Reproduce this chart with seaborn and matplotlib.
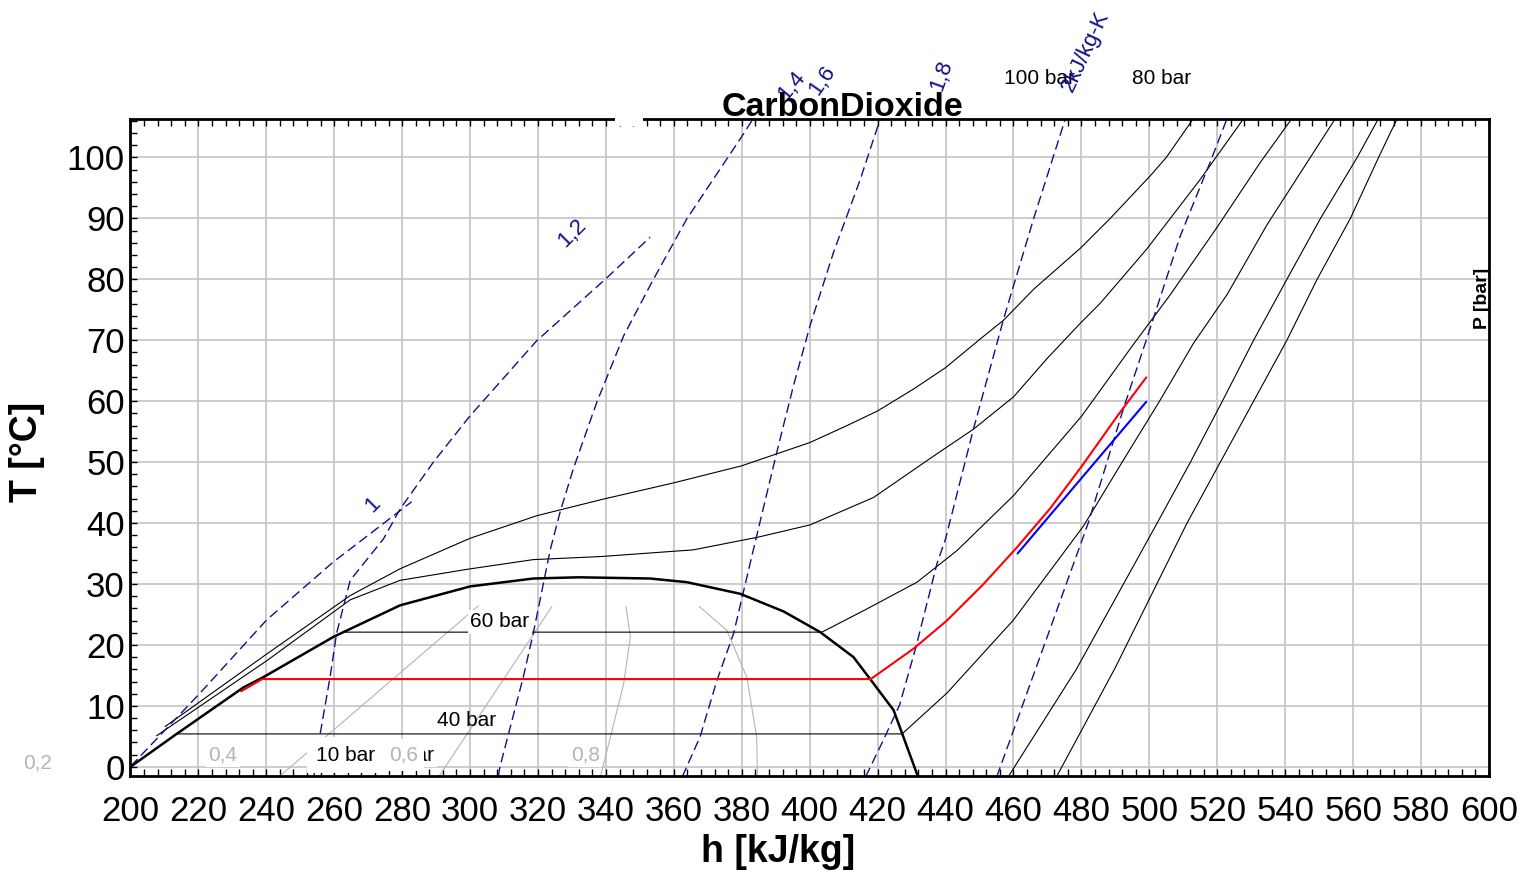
import matplotlib
matplotlib.use("Agg")
import matplotlib.pyplot as plt
from matplotlib.patches import Rectangle
from matplotlib.ticker import MultipleLocator
import seaborn as sns

# --- saturation dome (h in kJ/kg, T in degC) ---
dome_h = [200, 213.6, 233.2, 239.1, 259.7, 262.7, 279.4, 300, 318.6, 332, 353,
          363.8, 379.5, 392.3, 403.1, 412.9, 417.8, 424.7, 431.6, 432.0]
dome_T = [0, 5.4, 13.0, 14.7, 21.3, 22.1, 26.5, 29.6, 30.9, 31.1, 30.9,
          30.3, 28.4, 25.5, 22.1, 18.0, 14.4, 9.3, -1.2, -1.6]

# --- isobars ---
p100_h = [210.2, 240.1, 264.7, 279.4, 300, 319.6, 339, 360, 380, 400, 411, 420,
          430.6, 440, 450.2, 457.1, 466, 479.7, 488.5, 500.3, 505, 513]
p100_T = [6.6, 18.5, 28.1, 32.5, 37.5, 41.2, 43.9, 46.6, 49.4, 53.2, 56.0, 58.4,
          62.0, 65.5, 70.2, 73.3, 78.4, 85.1, 90, 97, 100, 106.4]

p80_h = [207.7, 240.1, 264.7, 279.4, 299, 318.6, 338.3, 365.7, 384.9, 400.1,
         418.8, 436.5, 448.2, 460, 469.9, 479.7, 485.6, 499.3, 515, 527.8]
p80_T = [5.1, 17.4, 27.4, 30.6, 32.4, 34.0, 34.5, 35.6, 37.7, 39.7,
         44.2, 51.0, 55.4, 60.7, 67.0, 72.8, 76.1, 85.0, 96.4, 106.4]

p60_h = [262.7, 403.6, 416.8, 431.6, 443.4, 460, 480, 494.9, 506.2, 519.9, 532.7, 542]
p60_T = [22.1, 22.1, 25.9, 30.3, 35.5, 44.5, 57.5, 69.0, 77.5, 88.5, 99.2, 106.4]

p40_h = [213.6, 427.2, 440.4, 460, 480.6, 492, 503, 513, 522.9, 534.7, 547.4, 554.8]
p40_T = [5.4, 5.4, 12.1, 24.1, 39.5, 50, 60, 69.5, 77.5, 89, 100, 106.4]

p20_h = [458.6, 478.5, 502.3, 512.1, 521.5, 530.7, 540.5, 550.4, 561.2, 567.5]
p20_T = [-1.5, 16.0, 40, 50, 60, 70, 80, 90, 100, 106.4]

p10_h = [472.8, 490.0, 511.1, 520.9, 530.7, 540.5, 549.4, 559.2, 567.5, 573]
p10_T = [-1.5, 16.3, 40, 50, 60, 70, 80, 90, 100, 106.4]

# --- cycle lines ---
red_h = [232.6, 238.8, 418.0, 430.6, 440.4, 451.2, 461.0, 470.8, 480.2, 490.5, 499.1]
red_T = [12.4, 14.4, 14.4, 19.4, 24.0, 30.0, 36.0, 42.4, 49.4, 57.5, 63.9]
blue_h = [461.2, 499.1]
blue_T = [35.0, 59.9]

# --- isentropes (kJ/kg-K) ---
s10_h = [200.1, 220.5, 240.1, 259.7, 268.6, 282.8]
s10_T = [0.1, 12.1, 24.1, 33.6, 37.4, 43.5]
s12_h = [254.0, 255.8, 258.8, 260.7, 264.7, 274.5, 279.4, 289.2, 300.0, 319.6, 339.8, 353.0]
s12_T = [-1.6, 5.2, 14.8, 21.9, 30.6, 37.4, 42.3, 50.0, 57.6, 69.9, 80.0, 86.9]
s14_h = [308.3, 308.8, 315.7, 318.6, 323.6, 326.5, 330.4, 337.3, 345.2, 353.5, 363.8, 379.5, 383.4]
s14_T = [-1.6, 0, 14.8, 21.9, 35.6, 41.8, 48.9, 59.8, 70.7, 79.5, 89.9, 103.0, 106.4]
s16_h = [362.5, 367.7, 372.7, 377.6, 383.4, 390.3, 395.2, 400.1, 407.0, 414.9, 420.8]
s16_T = [-1.6, 4.9, 14.2, 21.9, 35.6, 51.6, 62.5, 72.4, 84.4, 96.4, 106.4]
s18_h = [416.5, 421.7, 426.5, 431.3, 437.5, 440.0, 448.2, 457.1, 465.9, 475.3]
s18_T = [-1.6, 4.4, 10.2, 19.7, 33.4, 37.4, 55.4, 73.5, 89.9, 106.4]
s20_h = [455.1, 482.0, 492.5, 499.5, 509.1, 517.9, 522.9]
s20_T = [-1.6, 40.0, 59.0, 70.7, 87.1, 99.2, 106.4]

# --- quality lines ---
q2_h = [243.8, 302.4]
q2_T = [-1.6, 26.4]
q4_h = [290.8, 324.1]
q4_T = [-1.6, 26.3]
q6_h = [338.4, 340.3, 345.2, 347.2, 345.9]
q6_T = [-1.6, 2.6, 13.6, 21.3, 26.3]
q8_h = [384.6, 384.4, 381.5, 375.6, 367.5]
q8_T = [-1.6, 4.8, 14.7, 22.4, 26.3]

NAVY = '#10108a'
GREY = '#b4b4b4'

sns.set_theme(style="white")
plt.rcParams['font.family'] = ['Liberation Sans', 'DejaVu Sans']
plt.rcParams.update({'text.color': 'black', 'axes.labelcolor': 'black',
                     'xtick.color': 'black', 'ytick.color': 'black'})

fig = plt.figure(figsize=(15.22, 8.77), dpi=100)
ax = fig.add_axes([0.0857, 0.1152, 0.8926, 0.7491])


def curve(h, T, color, lw, ls='-', z=2):
    sns.lineplot(x=h, y=T, sort=False, estimator=None, color=color,
                 linewidth=lw, linestyle=ls, zorder=z, ax=ax)


for qh, qT in [(q2_h, q2_T), (q4_h, q4_T), (q6_h, q6_T), (q8_h, q8_T)]:
    curve(qh, qT, GREY, 0.8, z=1.5)

for ph, pT in [(p100_h, p100_T), (p80_h, p80_T), (p60_h, p60_T),
               (p40_h, p40_T), (p20_h, p20_T), (p10_h, p10_T)]:
    curve(ph, pT, 'black', 0.8)

dash = (0, (7, 3.5))
for sh, sT in [(s10_h, s10_T), (s12_h, s12_T), (s14_h, s14_T),
               (s16_h, s16_T), (s18_h, s18_T), (s20_h, s20_T)]:
    curve(sh, sT, NAVY, 1.0, ls=dash, z=2.2)

curve(dome_h, dome_T, 'black', 1.8, z=2.4)
curve(red_h, red_T, 'red', 1.5, z=3)
curve(blue_h, blue_T, 'blue', 1.5, z=3)

ax.set_xlim(200, 600)
ax.set_ylim(-1.5, 106.3)
ax.set_xticks(range(200, 601, 20))
ax.set_yticks(range(0, 101, 10))
ax.xaxis.set_minor_locator(MultipleLocator(4))
ax.yaxis.set_minor_locator(MultipleLocator(2))
ax.tick_params(which='both', direction='in', top=True, right=False, bottom=True,
               left=True, length=5, width=1, color='black')
ax.tick_params(axis='x', labelsize=25, pad=14)
ax.tick_params(axis='y', labelsize=25, pad=4)
ax.grid(True, which='major', color='#c8c8c8', linewidth=1.3)
ax.set_axisbelow(True)
for sp in ax.spines.values():
    sp.set_linewidth(2)
    sp.set_color('black')

ax.set_xlabel('h [kJ/kg]', fontsize=27, fontweight='bold')
ax.xaxis.set_label_coords(0.477, -0.1157)
ax.xaxis.label.set_va('center')
ax.set_ylabel('T [°C]', fontsize=27, fontweight='bold')
ax.yaxis.set_label_coords(-0.076, 0.493)
ax.yaxis.label.set_va('center')

# gap in top frame
ax.add_patch(Rectangle((0.3567, 0.99), 0.0206, 0.02, transform=ax.transAxes,
                       facecolor='white', edgecolor='none', clip_on=False, zorder=10))

fig.text(843 / 1522, 1 - 107 / 877, 'CarbonDioxide', ha='center', va='center',
         fontsize=24.5, fontweight='bold', zorder=11)

box = dict(facecolor='white', edgecolor='none', pad=2)
ax.text(308.8, 23.8, '60 bar', fontsize=15, ha='center', va='center', bbox=box, zorder=4)
ax.text(299.1, 7.6, '40 bar', fontsize=15, ha='center', va='center', zorder=4)
ax.text(280.8, 1.9, '20 bar', fontsize=15, ha='center', va='center', bbox=box, zorder=4)
ax.text(263.2, 1.9, '10 bar', fontsize=15, ha='center', va='center',
        bbox=dict(facecolor='white', edgecolor='none', pad=6), zorder=5)
ax.text(467.6, 112.9, '100 bar', fontsize=15, ha='center', va='center', zorder=5)
ax.text(503.5, 112.9, '80 bar', fontsize=15, ha='center', va='center', zorder=5)

for qh, qT, lab, pad in [(172.8, 0.6, '0,2', 2), (227.2, 1.9, '0,4', 2),
                         (280.3, 1.9, '0,6', 4.5), (333.9, 1.9, '0,8', 2)]:
    ax.text(qh, qT, lab, fontsize=15, color=GREY, ha='center', va='center',
            bbox=dict(facecolor='white', edgecolor='none', pad=pad),
            zorder=6, clip_on=False)

for sh, sT, lab, rot in [(271.5, 43.0, '1', 45), (330.0, 87.6, '1,2', 45),
                         (394.8, 111.7, '1,4', 50), (403.7, 112.7, '1,6', 55),
                         (438.9, 113.5, '1,8', 70), (481.1, 117.4, '2kJ/kg-K', 65)]:
    ax.text(sh, sT, lab, fontsize=16, color=NAVY, ha='center', va='center',
            rotation=rot, rotation_mode='anchor', zorder=6)

ax.text(598.1, 76.9, 'P [bar]', fontsize=14, fontweight='bold', rotation=90,
        ha='center', va='center', zorder=6)

fig.savefig('out.png', dpi=100)
